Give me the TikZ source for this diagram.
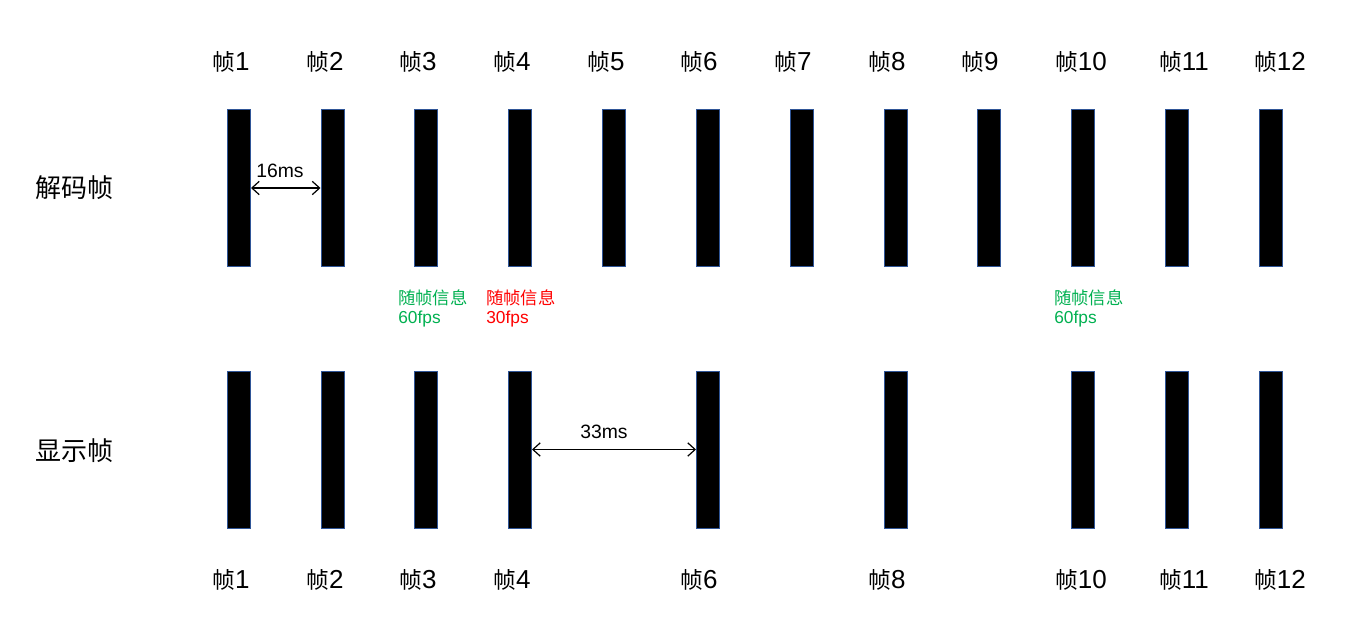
\documentclass[tikz,border=0pt]{standalone}
\usepackage{fontspec}
\setmainfont{Liberation Sans}
\newfontfamily\cjk{Noto Sans CJK SC}
\usetikzlibrary{arrows.meta}
\definecolor{barborder}{HTML}{2F5597}
\definecolor{infogreen}{HTML}{00B050}
\definecolor{infored}{HTML}{FF0000}
\newcommand{\zhen}[1]{{\cjk\fontsize{17pt}{17pt}\selectfont 帧}#1}
\tikzset{
  framebar/.style={draw=barborder, line width=0.75pt, fill=black, inner sep=0pt,
    minimum width=17.25pt, minimum height=117.75pt},
  framelabel/.style={inner sep=0pt, font=\fontsize{19.5pt}{19.5pt}\selectfont},
  rowlabel/.style={inner sep=0pt, anchor=west, font=\cjk\fontsize{19.5pt}{19.5pt}\selectfont},
  infotext/.style={inner sep=0pt, anchor=west, font=\fontsize{13pt}{13pt}\selectfont},
  cjkinfo/.style={infotext, font=\cjk\fontsize{13pt}{13pt}\selectfont},
  dimarrow/.style={{Straight Barb[length=5.5pt,width=10pt]}-{Straight Barb[length=5.5pt,width=10pt]}, line width=0.9pt},
  dimlabel/.style={inner sep=0pt, font=\fontsize{14.5pt}{14.5pt}\selectfont}
}
\begin{document}
\begin{tikzpicture}[x=0.75pt, y=-0.75pt]
\useasboundingbox (0,0) rectangle (1371,635);
% row labels
\node[rowlabel] (rl1) at (35,188) {解码帧};
\node[rowlabel] (rl2) at (35,451) {显示帧};
% top labels
\foreach \i/\x in {1/231,2/325,3/418,4/512,5/606,6/699,7/793,8/887,9/980,10/1081,11/1184,12/1280}{
  \node[framelabel] (tl\i) at (\x,62) {\zhen{\i}};
}
% decoded bars
\foreach \i/\x in {1/239,2/332.5,3/426,4/520,5/614,6/708,7/802,8/895.5,9/989,10/1083,11/1177,12/1271}{
  \node[framebar] (d\i) at (\x,188) {};
}
% displayed bars
\foreach \i/\x in {1/239,2/332.5,3/426,4/520,6/708,8/895.5,10/1083,11/1177,12/1271}{
  \node[framebar] (s\i) at (\x,449.5) {};
}
% bottom labels
\foreach \i/\x in {1/231,2/325,3/418,4/512,6/699,8/887,10/1081,11/1184,12/1280}{
  \node[framelabel] (bl\i) at (\x,580) {\zhen{\i}};
}
% dimension arrows
\draw[dimarrow] (d1) -- (d2);
\node[dimlabel] (ms16) at (280,171) {16ms};
\draw[dimarrow] (s4) -- (s6);
\node[dimlabel] (ms33) at (604,432) {33ms};
% info texts
\node[cjkinfo, text=infogreen] (i3a) at (398,298) {随帧信息};
\node[infotext, text=infogreen] (i3b) at (398,319) {60fps};
\node[cjkinfo, text=infored] (i4a) at (486,298) {随帧信息};
\node[infotext, text=infored] (i4b) at (486,319) {30fps};
\node[cjkinfo, text=infogreen] (i10a) at (1054,298) {随帧信息};
\node[infotext, text=infogreen] (i10b) at (1054,319) {60fps};
\end{tikzpicture}
\end{document}
